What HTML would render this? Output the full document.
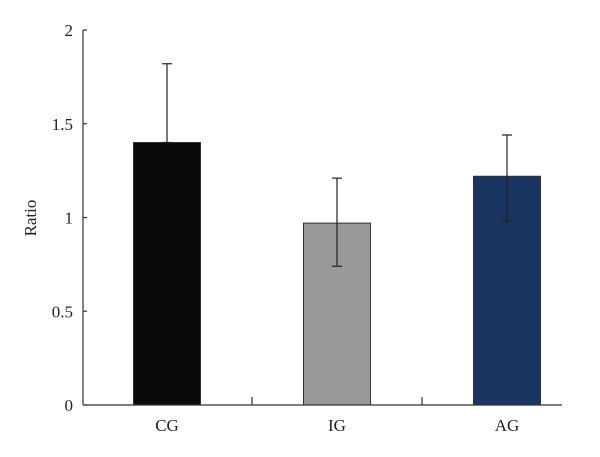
<!DOCTYPE html>
<html><head><meta charset="utf-8"><style>
body{margin:0;background:#fff}
svg text{font-family:"Liberation Serif",serif;font-size:17px;fill:#222}
</style></head><body>
<svg id="chart" width="600" height="452" xmlns="http://www.w3.org/2000/svg"></svg>
<script>
const categories = ["CG", "IG", "AG"];
const values = [1.40, 0.97, 1.22];
const errLow = [1.40, 0.74, 0.98];
const errHigh = [1.82, 1.21, 1.44];
const yTicks = [0, 0.5, 1, 1.5, 2];
const yTickLabels = ["0", "0.5", "1", "1.5", "2"];
const colors = ["#0a0a0a", "#999999", "#1b3563"];

const svg = document.getElementById('chart');
const NS = "http://www.w3.org/2000/svg";
const y0 = 405, yTop = 30, xL = 83, xR = 562;
const y = v => y0 - (v / 2) * (y0 - yTop);
const band = 170, first = 167, bw = 67;
const x = i => first + band * i;
function mk(tag, attrs, name) {
  const e = document.createElementNS(NS, tag);
  for (const k in attrs) e.setAttribute(k, attrs[k]);
  
  
  svg.appendChild(e);
  return e;
}
categories.forEach((c, i) => {
  const b = mk('rect', {x: x(i) - bw / 2, y: y(values[i]), width: bw, height: y0 - y(values[i]), fill: colors[i], stroke: '#333', 'stroke-width': 1}, 'bar-' + c.toLowerCase());
  mk('line', {x1: x(i), x2: x(i), y1: y(errLow[i]), y2: y(errHigh[i]), stroke: '#222', 'stroke-width': 1.2}, 'error-bar-' + c.toLowerCase());
  mk('line', {x1: x(i) - 5, x2: x(i) + 5, y1: y(errHigh[i]), y2: y(errHigh[i]), stroke: '#222', 'stroke-width': 1.2}, 'error-cap-top-' + c.toLowerCase());
  mk('line', {x1: x(i) - 5, x2: x(i) + 5, y1: y(errLow[i]), y2: y(errLow[i]), stroke: '#222', 'stroke-width': 1.2}, 'error-cap-bottom-' + c.toLowerCase());
  const t = mk('text', {x: x(i), y: 431, 'text-anchor': 'middle'}, 'x-label-' + c.toLowerCase());
  t.textContent = c;
  if (i > 0) mk('line', {x1: x(i) - band / 2, x2: x(i) - band / 2, y1: y0, y2: y0 - 8, stroke: '#333', 'stroke-width': 1.2}, 'x-tick');
});
mk('line', {x1: xL, x2: xL, y1: yTop, y2: y0, stroke: '#333', 'stroke-width': 1.2}, 'y-axis');
mk('line', {x1: xL, x2: xR, y1: y0, y2: y0, stroke: '#333', 'stroke-width': 1.2}, 'x-axis');
yTicks.forEach((v, i) => {
  mk('line', {x1: xL, x2: xL + 4, y1: y(v), y2: y(v), stroke: '#333', 'stroke-width': 1.2}, 'y-tick');
  const t = mk('text', {x: 73, y: y(v) + 6, 'text-anchor': 'end'}, 'y-tick-label');
  t.textContent = yTickLabels[i];
});
const yt = mk('text', {x: 36, y: 218, 'text-anchor': 'middle', transform: 'rotate(-90 36 218)'}, 'y-axis-title');
yt.textContent = 'Ratio';
</script>
</body></html>
